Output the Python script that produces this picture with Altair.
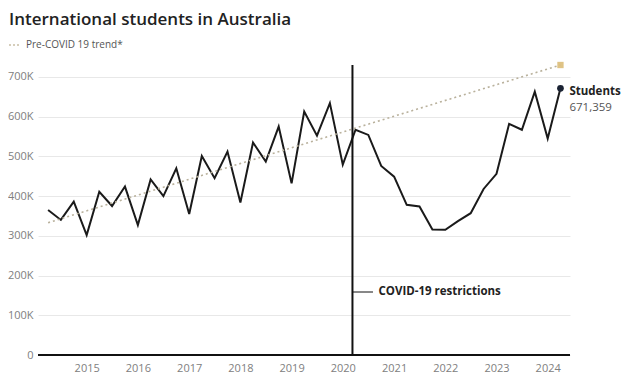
import altair as alt
import pandas as pd

# Quarterly data (Apr 2014 - Apr 2024)
quarters = [
    "2014-04-01", "2014-07-01", "2014-10-01",
    "2015-01-01", "2015-04-01", "2015-07-01", "2015-10-01",
    "2016-01-01", "2016-04-01", "2016-07-01", "2016-10-01",
    "2017-01-01", "2017-04-01", "2017-07-01", "2017-10-01",
    "2018-01-01", "2018-04-01", "2018-07-01", "2018-10-01",
    "2019-01-01", "2019-04-01", "2019-07-01", "2019-10-01",
    "2020-01-01", "2020-04-01", "2020-07-01", "2020-10-01",
    "2021-01-01", "2021-04-01", "2021-07-01", "2021-10-01",
    "2022-01-01", "2022-04-01", "2022-07-01", "2022-10-01",
    "2023-01-01", "2023-04-01", "2023-07-01", "2023-10-01",
    "2024-01-01", "2024-04-01",
]
students = [
    365000, 340000, 386000,
    302000, 411000, 375000, 424000,
    327000, 442000, 400000, 470000,
    355000, 501000, 445000, 512000,
    384000, 535000, 487000, 575000,
    432000, 613000, 552000, 634000,
    479000, 567000, 554000, 476000,
    449000, 378000, 374000, 316000,
    315000, 337000, 357000, 418000,
    456000, 582000, 567000, 663000,
    545000, 671359,
]
trend_dates = ["2014-04-01", "2024-04-01"]
trend_values = [333000, 730000]
covid_date = "2020-03-10"
year_ticks = [f"{y}-01-01" for y in range(2015, 2025)]

df = pd.DataFrame({"date": quarters, "students": students})
trend = pd.DataFrame({"date": trend_dates, "students": trend_values})
last = df.tail(1)

FONT = "Open Sans"
x_scale = alt.Scale(domain=["2014-01-19", "2024-06-08"])
y_scale = alt.Scale(domain=[0, 730000], nice=False)

x_enc = alt.X(
    "date:T", scale=x_scale, title=None,
    axis=alt.Axis(
        values=year_ticks, format="%Y", grid=False, domain=False, ticks=False,
        labelPadding=7, labelFontSize=11, labelColor="#808080", labelFont=FONT,
    ),
)
y_enc = alt.Y(
    "students:Q", scale=y_scale, title=None,
    axis=alt.Axis(
        values=[0, 100000, 200000, 300000, 400000, 500000, 600000, 700000],
        labelExpr="datum.value == 0 ? '0' : (datum.value / 1000) + 'K'",
        domain=False, ticks=False, labelPadding=5, gridColor="#e8e8e8",
        labelFontSize=11, labelColor="#808080", labelFont=FONT,
    ),
)

base_line = alt.Chart(df).mark_line(color="#1a1a1a", strokeWidth=2).encode(x=x_enc, y=y_enc)

trend_line = alt.Chart(trend).mark_line(
    color="#b9b19c", strokeWidth=1.6, strokeDash=[2, 3]
).encode(x="date:T", y="students:Q")

trend_end = alt.Chart(trend.tail(1)).mark_point(
    shape="square", filled=True, size=40, color="#dcbc78", opacity=0.9
).encode(x="date:T", y="students:Q")

last_point = alt.Chart(last).mark_point(
    filled=True, size=45, color="#1a2233", opacity=1
).encode(x="date:T", y="students:Q")

zero_rule = alt.Chart(pd.DataFrame({"v": [0]})).mark_rule(
    color="#111", strokeWidth=2
).encode(y=alt.Y("v:Q", scale=y_scale))

covid_df = pd.DataFrame({"date": [covid_date], "top": [730000], "bottom": [0]})
covid_rule = alt.Chart(covid_df).mark_rule(color="#111", strokeWidth=2).encode(
    x="date:T", y="top:Q", y2="bottom:Q"
)
covid_tick = alt.Chart(covid_df).mark_rule(color="#111", strokeWidth=1).encode(
    x="date:T", x2=alt.value(335), y=alt.value(227)
)
covid_text = alt.Chart(covid_df).mark_text(
    align="left", baseline="middle", font=FONT, fontWeight="bold",
    fontSize=11.5, color="#222", dx=26,
).encode(x="date:T", y=alt.value(227), text=alt.value("COVID-19 restrictions"))

lab_students = alt.Chart(last).mark_text(
    align="left", baseline="middle", font=FONT, fontWeight="bold",
    fontSize=11.5, color="#222", dx=9, dy=4,
).encode(x="date:T", y="students:Q", text=alt.value("Students"))
lab_value = alt.Chart(last).mark_text(
    align="left", baseline="middle", font=FONT, fontSize=11.5,
    color="#555", dx=9, dy=20,
).encode(x="date:T", y="students:Q", text=alt.Text("students:Q", format=","))

title = alt.Chart(pd.DataFrame({"t": ["International students in Australia"]})).mark_text(
    align="left", baseline="middle", font=FONT, fontWeight=600,
    fontSize=17, color="#222",
).encode(x=alt.value(-29), y=alt.value(-45), text="t:N")

legend_sym = alt.Chart(pd.DataFrame({"a": [0]})).mark_rule(
    color="#c9bfa5", strokeWidth=1.5, strokeDash=[2, 2]
).encode(x=alt.value(-29), x2=alt.value(-17), y=alt.value(-20))
legend_text = alt.Chart(pd.DataFrame({"t": ["Pre-COVID 19 trend*"]})).mark_text(
    align="left", baseline="middle", font=FONT, fontSize=10, color="#555",
).encode(x=alt.value(-12), y=alt.value(-20), text="t:N")

chart = alt.layer(
    base_line, trend_line, zero_rule, covid_rule, covid_tick, covid_text,
    trend_end, last_point, lab_students, lab_value, title, legend_sym, legend_text,
).properties(
    width=532, height=290,
    background="white",
    autosize=alt.AutoSizeParams(type="none"),
    padding={"left": 30, "top": 57, "right": 57, "bottom": 21},
).configure_view(strokeWidth=0, stroke="transparent")

chart.save("out.html", embed_options={"renderer": "svg", "actions": False})
